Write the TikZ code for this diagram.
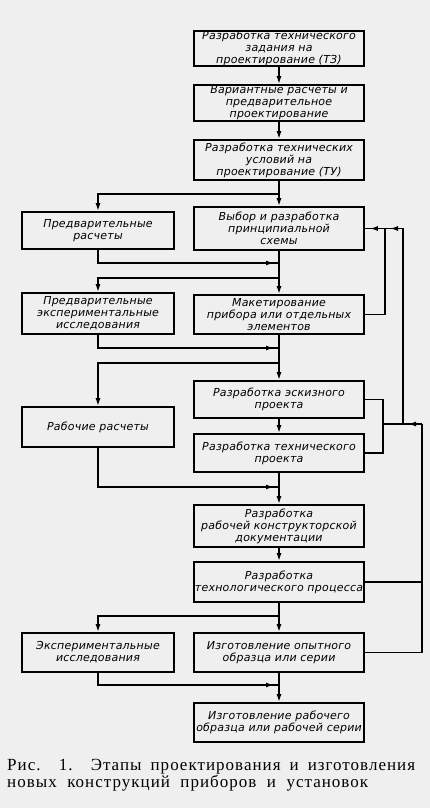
\documentclass[tikz,border=0pt]{standalone}
\usepackage{fontspec}
\setmainfont{Liberation Serif}
\newfontfamily\boxfont[LetterSpace=2]{DejaVu Sans}
\newfontfamily\capfont[LetterSpace=6]{Liberation Serif}
\usetikzlibrary{arrows.meta,decorations.markings,calc}
\definecolor{bgc}{RGB}{239,239,239}
\begin{document}
\begin{tikzpicture}[x=1pt,y=-1pt,
  line/.style={line width=1.6pt},
  arr/.style={line width=1.6pt,-{Latex[length=8pt,width=5pt]}},
  joinarr/.style={line width=1.6pt,postaction={decorate},
    decoration={markings,mark=at position -5pt with {\arrow{Latex[length=8pt,width=5pt]}}}},
  box/.style={draw,line width=1.6pt,inner sep=0pt,align=center,
    font=\boxfont\itshape\fontsize{11}{12}\selectfont},
  rbox/.style={box,minimum width=170pt},
  lbox/.style={box,minimum width=152pt}]
\fill[bgc] (0,0) rectangle (430,808);
\useasboundingbox (0,0) rectangle (430,808);
% right column
\node[rbox,minimum height=35pt] (b1) at (279,48.5) {Разработка технического\\задания на\\проектирование (ТЗ)};
\node[rbox,minimum height=36pt] (b2) at (279,103) {Вариантные расчеты и\\предварительное\\проектирование};
\node[rbox,minimum height=40pt] (b3) at (279,160) {Разработка технических\\условий на\\проектирование (ТУ)};
\node[rbox,minimum height=43pt] (r1) at (279,228.5) {Выбор и разработка\\принципиальной\\схемы};
\node[rbox,minimum height=39pt] (r2) at (279,314.5) {Макетирование\\прибора или отдельных\\элементов};
\node[rbox,minimum height=37pt] (r3) at (279,399.5) {Разработка эскизного\\проекта};
\node[rbox,minimum height=38pt] (r4) at (279,453) {Разработка технического\\проекта};
\node[rbox,minimum height=42pt] (r5) at (279,526) {Разработка\\рабочей конструкторской\\документации};
\node[rbox,minimum height=40pt] (r6) at (279,582) {Разработка\\технологического процесса};
\node[rbox,minimum height=39pt] (r7) at (279,652.5) {Изготовление опытного\\образца или серии};
\node[rbox,minimum height=39pt] (r8) at (279,722.5) {Изготовление рабочего\\образца или рабочей серии};
% left column
\node[lbox,minimum height=37pt] (l1) at (98,230.5) {Предварительные\\расчеты};
\node[lbox,minimum height=41pt] (l2) at (98,313.5) {Предварительные\\экспериментальные\\исследования};
\node[lbox,minimum height=40pt] (l3) at (98,427) {Рабочие расчеты};
\node[lbox,minimum height=39pt] (l4) at (98,652.5) {Экспериментальные\\исследования};
% spine coordinates
\coordinate (s1) at (279,194);
\coordinate (m1) at (279,263);
\coordinate (s2) at (279,278);
\coordinate (m2) at (279,348);
\coordinate (s3) at (279,363);
\coordinate (m3) at (279,487);
\coordinate (s4) at (279,616);
\coordinate (m4) at (279,685);
% spine
\draw[arr] (b1.south) -- (b2.north);
\draw[arr] (b2.south) -- (b3.north);
\draw[line] (b3.south) -- (s1);
\draw[arr] (s1) -- (r1.north);
\draw[arr] (s1) -| (l1.north);
\draw[joinarr] (l1.south) |- (m1);
\draw[arr] (r1.south) -- (r2.north);
\draw[arr] (s2) -| (l2.north);
\draw[joinarr] (l2.south) |- (m2);
\draw[arr] (r2.south) -- (r3.north);
\draw[arr] (s3) -| (l3.north);
\draw[arr] (r3.south) -- (r4.north);
\draw[joinarr] (l3.south) |- (m3);
\draw[arr] (r4.south) -- (r5.north);
\draw[arr] (r5.south) -- (r6.north);
\draw[arr] (r6.south) -- (r7.north);
\draw[arr] (s4) -| (l4.north);
\draw[joinarr] (l4.south) |- (m4);
\draw[arr] (r7.south) -- (r8.north);
% feedback
\coordinate (fa) at (385,314.5);
\coordinate (ja) at (383,424);
\coordinate (jb) at (403,424);
\coordinate (jc) at (422,424);
\draw[joinarr] (r2.east) -- (fa) |- (r1.east);
\draw[line] (r3.east) -| (ja) |- (r4.east);
\draw[line] (ja) -- (jb);
\draw[line] (jb) |- (r1.east);
\draw[joinarr] (jb |- r1.east) -- (fa |- r1.east);
\draw[joinarr] (jc) -- (jb);
\draw[line] (r6.east) -- (jc |- r6.east);
\draw[line] (r7.east) -| (jc);
% caption
\node[anchor=base west,inner sep=0,font=\capfont\fontsize{17}{17}\selectfont] (cap1) at (7,770)
  {\makebox[408pt][s]{Рис. 1. Этапы проектирования и изготовления}};
\node[anchor=base west,inner sep=0,font=\capfont\fontsize{17}{17}\selectfont] (cap2) at (7,787)
  {\makebox[361pt][s]{новых конструкций приборов и установок}};
\end{tikzpicture}
\end{document}
